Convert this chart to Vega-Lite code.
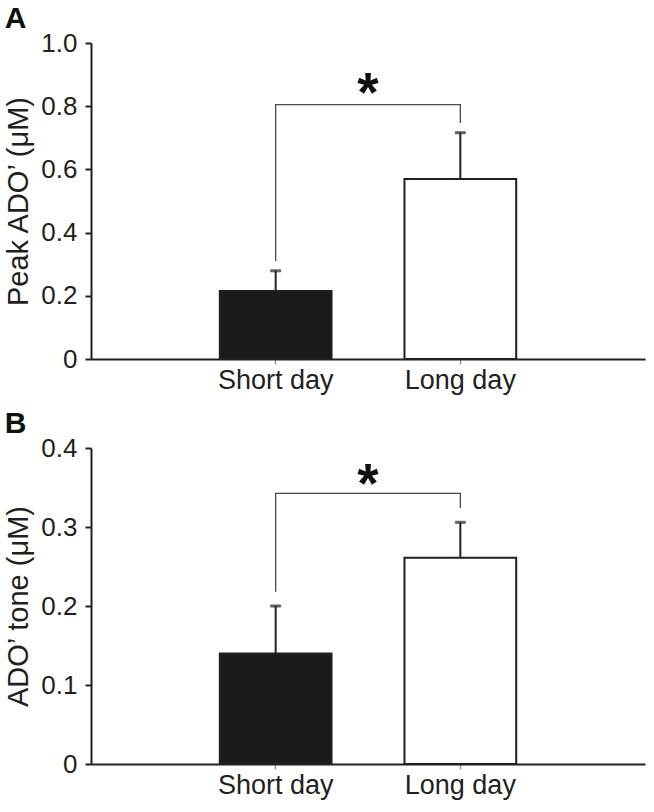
{
  "$schema": "https://vega.github.io/schema/vega-lite/v6.json",
  "background": "white",
  "padding": {"left": 4, "top": 4, "right": 6, "bottom": 4},
  "spacing": 16,
  "datasets": {
    "barsA": [
      {"group": "Short day", "mean": 0.215, "upper": 0.279},
      {"group": "Long day", "mean": 0.57, "upper": 0.716}
    ],
    "bracketA": [
      {"group": "Short day", "y": 0.31, "order": 1},
      {"group": "Short day", "y": 0.805, "order": 2},
      {"group": "Long day", "y": 0.805, "order": 3},
      {"group": "Long day", "y": 0.747, "order": 4}
    ],
    "starA": [{"label": "*", "y": 0.84}],
    "barsB": [
      {"group": "Short day", "mean": 0.14, "upper": 0.2},
      {"group": "Long day", "mean": 0.261, "upper": 0.306}
    ],
    "bracketB": [
      {"group": "Short day", "y": 0.218, "order": 1},
      {"group": "Short day", "y": 0.3425, "order": 2},
      {"group": "Long day", "y": 0.3425, "order": 3},
      {"group": "Long day", "y": 0.324, "order": 4}
    ],
    "starB": [{"label": "*", "y": 0.353}]
  },
  "vconcat": [
    {
      "title": {"text": "A"},
      "width": 554,
      "height": 316,
      "resolve": {"scale": {"x": "independent"}},
      "layer": [
        {
          "layer": [
            {
              "data": {"name": "barsA"},
              "mark": {"type": "rule", "stroke": "#231f20", "strokeWidth": 2},
              "encoding": {
                "x": {"field": "group", "type": "nominal", "sort": ["Short day", "Long day"]},
                "y": {"field": "mean", "type": "quantitative"},
                "y2": {"field": "upper"}
              }
            },
            {
              "data": {"name": "barsA"},
              "mark": {"type": "tick", "stroke": "#231f20", "color": "#231f20", "size": 10, "thickness": 2},
              "encoding": {
                "x": {"field": "group", "type": "nominal", "sort": ["Short day", "Long day"]},
                "y": {"field": "upper", "type": "quantitative"}
              }
            },
            {
              "data": {"name": "barsA"},
              "mark": {"type": "bar", "stroke": "#231f20", "strokeWidth": 2},
              "encoding": {
                "x": {
                  "field": "group", "type": "nominal", "sort": ["Short day", "Long day"],
                  "scale": {"type": "band", "paddingInner": 0.395, "paddingOuter": 0.6975},
                  "axis": {"title": null}
                },
                "y": {
                  "field": "mean", "type": "quantitative",
                  "scale": {"domain": [0, 1], "nice": false},
                  "axis": {"title": "Peak ADO’ (μM)", "values": [0, 0.2, 0.4, 0.6, 0.8, 1.0],
                           "labelExpr": "datum.value == 0 ? '0' : format(datum.value, '.1f')"}
                },
                "fill": {
                  "field": "group", "type": "nominal",
                  "scale": {"domain": ["Short day", "Long day"], "range": ["#1c1a1b", "#ffffff"]},
                  "legend": null
                }
              }
            },
            {
              "data": {"name": "bracketA"},
              "mark": {"type": "line", "stroke": "#4a4a4a", "strokeWidth": 1.3, "interpolate": "linear"},
              "encoding": {
                "x": {"field": "group", "type": "nominal", "sort": ["Short day", "Long day"]},
                "y": {"field": "y", "type": "quantitative"},
                "order": {"field": "order", "type": "quantitative"}
              }
            }
          ]
        },
        {
          "data": {"name": "starA"},
          "mark": {"type": "text", "fontSize": 55, "fontWeight": "bold", "font": "Liberation Sans", "baseline": "middle", "align": "center", "color": "#111"},
          "encoding": {
            "x": {"datum": 0.5, "type": "quantitative", "scale": {"domain": [0, 1], "nice": false}, "axis": null},
            "y": {"field": "y", "type": "quantitative"},
            "text": {"field": "label"}
          }
        }
      ]
    },
    {
      "title": {"text": "B"},
      "width": 554,
      "height": 316,
      "resolve": {"scale": {"x": "independent"}},
      "layer": [
        {
          "layer": [
            {
              "data": {"name": "barsB"},
              "mark": {"type": "rule", "stroke": "#231f20", "strokeWidth": 2},
              "encoding": {
                "x": {"field": "group", "type": "nominal", "sort": ["Short day", "Long day"]},
                "y": {"field": "mean", "type": "quantitative"},
                "y2": {"field": "upper"}
              }
            },
            {
              "data": {"name": "barsB"},
              "mark": {"type": "tick", "stroke": "#231f20", "color": "#231f20", "size": 10, "thickness": 2},
              "encoding": {
                "x": {"field": "group", "type": "nominal", "sort": ["Short day", "Long day"]},
                "y": {"field": "upper", "type": "quantitative"}
              }
            },
            {
              "data": {"name": "barsB"},
              "mark": {"type": "bar", "stroke": "#231f20", "strokeWidth": 2},
              "encoding": {
                "x": {
                  "field": "group", "type": "nominal", "sort": ["Short day", "Long day"],
                  "scale": {"type": "band", "paddingInner": 0.395, "paddingOuter": 0.6975},
                  "axis": {"title": null}
                },
                "y": {
                  "field": "mean", "type": "quantitative",
                  "scale": {"domain": [0, 0.4], "nice": false},
                  "axis": {"title": "ADO’ tone (μM)", "values": [0, 0.1, 0.2, 0.3, 0.4],
                           "labelExpr": "datum.value == 0 ? '0' : format(datum.value, '.1f')"}
                },
                "fill": {
                  "field": "group", "type": "nominal",
                  "scale": {"domain": ["Short day", "Long day"], "range": ["#1c1a1b", "#ffffff"]},
                  "legend": null
                }
              }
            },
            {
              "data": {"name": "bracketB"},
              "mark": {"type": "line", "stroke": "#4a4a4a", "strokeWidth": 1.3, "interpolate": "linear"},
              "encoding": {
                "x": {"field": "group", "type": "nominal", "sort": ["Short day", "Long day"]},
                "y": {"field": "y", "type": "quantitative"},
                "order": {"field": "order", "type": "quantitative"}
              }
            }
          ]
        },
        {
          "data": {"name": "starB"},
          "mark": {"type": "text", "fontSize": 55, "fontWeight": "bold", "font": "Liberation Sans", "baseline": "middle", "align": "center", "color": "#111"},
          "encoding": {
            "x": {"datum": 0.5, "type": "quantitative", "scale": {"domain": [0, 1], "nice": false}, "axis": null},
            "y": {"field": "y", "type": "quantitative"},
            "text": {"field": "label"}
          }
        }
      ]
    }
  ],
  "config": {
    "view": {"stroke": null},
    "font": "Liberation Sans",
    "title": {"anchor": "start", "frame": "bounds", "fontSize": 30, "fontWeight": "bold", "font": "Liberation Sans", "color": "#111", "offset": -4},
    "axisY": {
      "domainColor": "#231f20", "domainWidth": 2, "tickColor": "#231f20", "tickWidth": 2, "tickSize": 6,
      "labelFontSize": 26, "labelFont": "Liberation Sans", "labelColor": "#231f20", "labelPadding": 8,
      "titleFontSize": 29, "titleFont": "Liberation Sans", "titleFontWeight": "normal", "titleColor": "#231f20", "titlePadding": 7,
      "grid": false
    },
    "axisX": {
      "domainColor": "#231f20", "domainWidth": 2, "tickColor": "#999999", "tickWidth": 1.5, "tickSize": 5,
      "labelFontSize": 27, "labelFont": "Liberation Sans", "labelColor": "#231f20", "labelPadding": 3, "labelAngle": 0,
      "grid": false
    }
  }
}
